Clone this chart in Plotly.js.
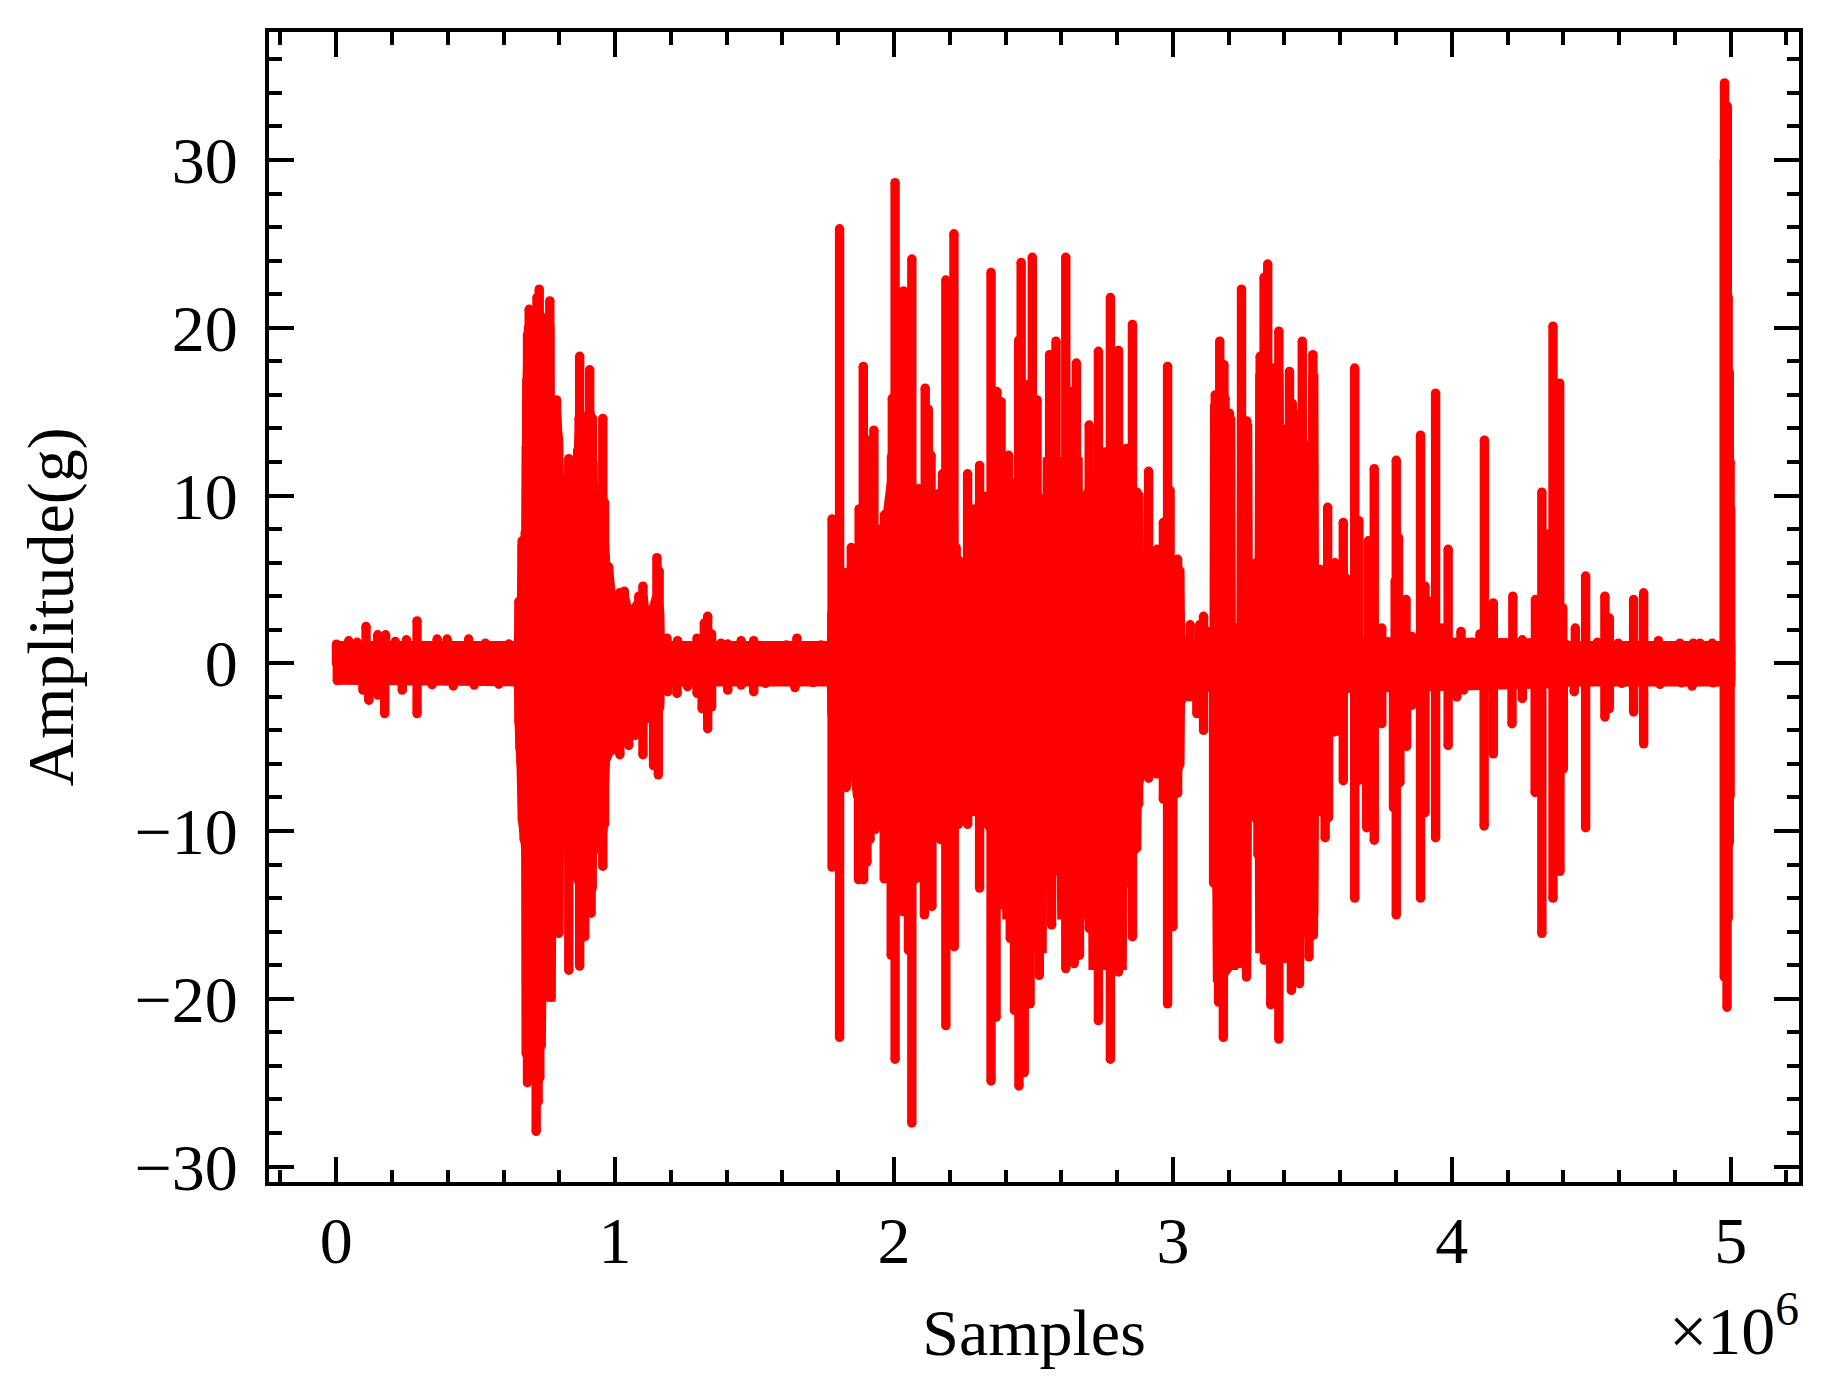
<!DOCTYPE html>
<html>
<head>
<meta charset="utf-8">
<script src="https://cdn.plot.ly/plotly-3.0.1.min.js"></script>
<style>body { margin: 0; background: #fff; }</style>
</head>
<body>
<div id="chart" style="width:1830px;height:1399px;"></div>
<script>
// samples are in units of 1e6, amplitude in g

// solid middle of the signal, upper and lower outline
var bodyTopX = [0, 0.654, 0.656, 0.665, 0.667, 0.68, 0.682, 0.684, 0.69, 0.72, 0.766, 0.767, 0.79, 0.797, 0.80, 0.83, 0.866, 0.873, 0.91, 0.92, 0.93, 0.956, 0.965, 0.977, 0.99, 1.016, 1.033, 1.05, 1.08, 1.10, 1.115, 1.15, 1.16, 1.162, 1.776, 1.778, 1.82, 1.90, 1.93, 1.935, 1.945, 1.95, 1.97, 2.0, 2.08, 2.16, 2.212, 2.214, 2.26, 2.30, 2.35, 2.40, 2.522, 2.525, 2.548, 2.55, 2.66, 2.662, 2.688, 2.69, 2.76, 2.84, 2.878, 2.88, 2.91, 2.95, 3.0, 3.025, 3.027, 3.148, 3.15, 3.207, 3.209, 3.245, 3.247, 3.268, 3.27, 3.295, 3.31, 3.312, 3.38, 3.382, 3.44, 3.478, 3.50, 3.502, 3.505, 3.507, 3.55, 3.6, 3.605, 4.40, 4.42, 4.97, 5.0];
var bodyTopY = [1.05, 1.05, 3.5, 3.5, 7, 7.5, 12, 16, 20, 21, 20, 15, 15, 13, 11, 11, 12, 14, 15, 11, 9.3, 9.5, 6, 5.5, 3.5, 4, 4, 2.8, 3.5, 4, 2, 4, 3, 1.05, 1.05, 3, 5, 6.5, 6.5, 4.7, 4.7, 8, 8, 12, 10, 10, 11, 6, 6, 9, 10, 11, 9.5, 4.6, 4.6, 12, 12, 4.5, 4.5, 10, 12, 10.5, 10, 5.5, 5, 6.5, 6, 5.5, 1.3, 1.3, 15, 14.5, 2, 2, 14, 14, 4.5, 5.5, 5.5, 17, 17, 13.5, 13.5, 12.5, 12.5, 17, 17, 5.2, 5.5, 5, 1.3, 1.2, 1.05, 1.05, 1.05];
var bodyLowX = [0, 0.654, 0.656, 0.663, 0.668, 0.68, 0.682, 0.70, 0.73, 0.735, 0.737, 0.77, 0.772, 0.798, 0.80, 0.83, 0.87, 0.91, 0.92, 0.956, 0.965, 1.0, 1.05, 1.1, 1.15, 1.16, 1.162, 1.776, 1.778, 1.81, 1.83, 1.85, 1.87, 1.925, 1.927, 1.945, 1.947, 1.985, 1.987, 2.078, 2.08, 2.15, 2.2, 2.3, 2.40, 2.405, 2.495, 2.497, 2.531, 2.533, 2.54, 2.542, 2.6, 2.602, 2.668, 2.67, 2.685, 2.687, 2.712, 2.714, 2.818, 2.82, 2.87, 2.872, 2.885, 2.96, 3.0, 3.025, 3.027, 3.148, 3.15, 3.158, 3.16, 3.205, 3.217, 3.219, 3.224, 3.226, 3.265, 3.267, 3.29, 3.292, 3.31, 3.312, 3.40, 3.47, 3.505, 3.507, 3.55, 3.552, 3.6, 3.605, 4.40, 4.42, 4.97, 5.0];
var bodyLowY = [-1.0, -1.1, -3.5, -5.9, -9.3, -11, -23, -23, -22.8, -22, -19.9, -19.9, -15.8, -15.8, -11, -11, -13, -14, -11, -10, -5.8, -4.5, -3.5, -3, -3, -2.6, -1.1, -1.1, -3, -6, -5, -5, -8, -7, -4.8, -4.8, -8, -8, -12, -13, -8.2, -8.2, -9, -8.8, -11, -15, -15, -17, -17, -5, -5, -12, -12, -15, -15, -4.8, -4.8, -9.7, -9.7, -18, -18, -11.8, -11, -7.5, -6.6, -6.4, -7, -6, -1.5, -1.4, -13, -13, -19, -18, -18, -2.7, -2.7, -17, -17, -5, -5, -9, -9, -17, -17, -16, -15, -8.6, -9, -4.2, -4, -1.5, -1.2, -1.1, -1.1, -1.1];

// quiet start, 0 to 0.65
var topX1 = [0.001, 0.045, 0.075, 0.107, 0.149, 0.177, 0.212, 0.252, 0.290, 0.362, 0.398, 0.475, 0.535, 0.619];
var topY1 = [1.14, 1.34, 1.25, 2.2, 1.7, 1.7, 1.3, 1.4, 2.53, 1.45, 1.45, 1.45, 1.2, 1.15];
var lowX1 = [0.004, 0.096, 0.117, 0.149, 0.174, 0.237, 0.290, 0.344, 0.42, 0.495, 0.583];
var lowY1 = [-1.03, -1.6, -2.2, -1.9, -3.0, -1.6, -3.0, -1.28, -1.35, -1.3, -1.25];

// first burst, 0.65 to 1.75
var topX2 = [0.656, 0.667, 0.678, 0.682, 0.684, 0.686, 0.692, 0.720, 0.728, 0.744, 0.766, 0.790, 0.797, 0.804, 0.834, 0.866, 0.871, 0.873, 0.909, 0.919, 0.921, 0.923, 0.956, 0.962, 0.965, 0.977, 0.989, 1.016, 1.033, 1.049, 1.085, 1.100, 1.115, 1.150, 1.158, 1.186, 1.224, 1.260, 1.294, 1.320, 1.332, 1.346, 1.380, 1.404, 1.452, 1.497, 1.542, 1.584, 1.614, 1.652, 1.694, 1.738];
var topY2 = [3.7, 7.3, 7.8, 12.9, 16.9, 19.6, 21.1, 21.8, 22.3, 20.1, 21.6, 15.7, 13.4, 11.1, 12.2, 12.7, 14.6, 18.3, 17.5, 14.6, 11.9, 9.3, 14.6, 9.6, 6.4, 5.75, 3.9, 4.2, 4.3, 3.0, 4.0, 4.6, 2.1, 6.3, 5.5, 1.5, 1.35, 1.0, 1.5, 2.4, 2.8, 1.75, 1.2, 1.15, 1.35, 1.35, 1.05, 1.05, 1.1, 1.5, 1.05, 1.1];
var lowX2 = [0.656, 0.659, 0.663, 0.668, 0.674, 0.680, 0.682, 0.686, 0.717, 0.724, 0.730, 0.735, 0.770, 0.798, 0.834, 0.873, 0.891, 0.914, 0.918, 0.923, 0.956, 0.962, 0.965, 0.989, 1.017, 1.049, 1.072, 1.100, 1.115, 1.138, 1.155, 1.189, 1.222, 1.260, 1.294, 1.312, 1.332, 1.346, 1.404, 1.452, 1.497, 1.54, 1.645, 1.71];
var lowY2 = [-3.5, -5.1, -5.9, -9.3, -10.5, -11.2, -23.3, -25.0, -27.9, -26.15, -24.7, -22.8, -19.9, -16.1, -18.3, -18.05, -16.3, -14.9, -13.4, -11.2, -12.1, -9.6, -5.8, -5.2, -5.45, -4.9, -4.3, -5.45, -3.3, -6.1, -6.65, -1.7, -1.8, -1.4, -1.8, -2.7, -3.9, -2.6, -1.6, -1.3, -1.7, -1.2, -1.45, -1.15];

// second burst, 1.75 to 3.05
var topX3 = [1.778, 1.805, 1.825, 1.847, 1.875, 1.890, 1.909, 1.928, 1.939, 1.966, 1.991, 1.994, 2.004, 2.034, 2.064, 2.088, 2.112, 2.123, 2.133, 2.156, 2.174, 2.186, 2.215, 2.223, 2.229, 2.264, 2.285, 2.307, 2.327, 2.348, 2.369, 2.384, 2.411, 2.447, 2.456, 2.476, 2.496, 2.513, 2.521, 2.558, 2.581, 2.616, 2.638, 2.654, 2.668, 2.700, 2.733, 2.757, 2.776, 2.805, 2.833, 2.855, 2.871, 2.883, 2.913, 2.943, 2.966, 2.981, 2.990, 3.017, 3.032];
var topY3 = [8.6, 25.9, 5.4, 6.9, 9.2, 17.7, 13.3, 13.9, 5.0, 8.85, 12.3, 15.8, 28.65, 22.2, 24.1, 10.4, 16.4, 15.15, 12.4, 10.1, 11.3, 22.85, 25.6, 6.9, 6.2, 11.3, 9.2, 11.8, 9.95, 23.3, 16.2, 15.6, 12.4, 19.25, 23.9, 16.6, 24.2, 15.7, 9.9, 18.4, 19.2, 24.2, 16.2, 17.9, 4.5, 14.2, 18.6, 12.6, 21.8, 18.65, 12.8, 20.2, 10.2, 5.8, 11.45, 6.8, 8.4, 17.7, 10.3, 6.2, 1.5];
var lowX3 = [1.778, 1.805, 1.829, 1.873, 1.891, 1.903, 1.914, 1.933, 1.965, 1.990, 2.004, 2.032, 2.052, 2.064, 2.109, 2.136, 2.166, 2.186, 2.216, 2.231, 2.264, 2.307, 2.348, 2.366, 2.381, 2.393, 2.417, 2.432, 2.448, 2.467, 2.488, 2.521, 2.548, 2.565, 2.590, 2.616, 2.646, 2.665, 2.700, 2.733, 2.776, 2.805, 2.833, 2.855, 2.877, 2.913, 2.943, 2.966, 2.981, 3.000, 3.017, 3.032];
var lowY3 = [-12.15, -22.3, -7.4, -12.9, -12.9, -11.85, -10.5, -9.9, -12.85, -17.4, -23.6, -14.8, -17.1, -27.4, -15.0, -14.5, -10.5, -21.6, -16.9, -9.6, -9.6, -13.4, -24.9, -21.1, -14.4, -12.3, -16.4, -20.7, -25.2, -24.4, -20.3, -18.6, -13.0, -15.6, -12.4, -18.2, -17.9, -17.4, -15.8, -21.3, -23.6, -18.4, -13.1, -16.3, -8.4, -6.85, -6.6, -8.1, -20.3, -15.7, -7.75, -2.2];

// third burst, 3.05 to 3.65
var topX4 = [3.062, 3.096, 3.110, 3.128, 3.152, 3.168, 3.183, 3.187, 3.203, 3.226, 3.246, 3.265, 3.277, 3.299, 3.313, 3.327, 3.340, 3.360, 3.380, 3.399, 3.418, 3.428, 3.435, 3.464, 3.478, 3.502, 3.528, 3.555, 3.581, 3.611, 3.620];
var topY4 = [2.3, 2.3, 2.8, 1.9, 16.0, 19.2, 17.8, 15.8, 14.9, 2.1, 22.3, 14.45, 4.6, 6.0, 18.3, 23.0, 23.8, 17.6, 19.8, 13.95, 17.4, 15.5, 14.9, 19.2, 13.0, 18.4, 5.6, 9.3, 6.0, 8.4, 5.1];
var lowX4 = [3.060, 3.086, 3.110, 3.146, 3.164, 3.181, 3.203, 3.239, 3.264, 3.279, 3.299, 3.305, 3.328, 3.351, 3.380, 3.402, 3.425, 3.454, 3.488, 3.504, 3.546, 3.558, 3.611];
var lowY4 = [-2.0, -3.0, -4.0, -13.1, -20.2, -22.3, -18.0, -17.9, -18.7, -8.3, -9.3, -11.4, -17.7, -20.35, -22.4, -17.6, -19.5, -19.1, -17.5, -16.2, -10.4, -9.2, -7.0];

// sparse spikes, 3.65 to 4.97
var topX5 = [3.652, 3.667, 3.701, 3.722, 3.749, 3.797, 3.801, 3.809, 3.836, 3.857, 3.888, 3.904, 3.920, 3.942, 3.964, 3.987, 4.033, 4.072, 4.101, 4.117, 4.149, 4.179, 4.219, 4.253, 4.281, 4.300, 4.323, 4.342, 4.363, 4.387, 4.393, 4.398, 4.443, 4.480, 4.522, 4.549, 4.565, 4.597, 4.652, 4.688, 4.741, 4.818, 4.866, 4.890, 4.934];
var topY5 = [17.6, 8.5, 7.3, 11.6, 2.1, 4.9, 12.1, 7.5, 3.8, 1.6, 13.6, 4.6, 3.7, 16.1, 2.1, 6.8, 1.9, 1.25, 1.75, 13.3, 3.6, 1.1, 4.0, 1.4, 1.2, 3.8, 10.2, 7.7, 20.1, 16.7, 3.3, 3.3, 2.1, 5.2, 1.25, 4.0, 2.7, 1.2, 3.8, 4.2, 1.35, 1.2, 1.2, 1.2, 1.2];
var lowX5 = [3.652, 3.665, 3.695, 3.722, 3.749, 3.791, 3.801, 3.814, 3.838, 3.857, 3.888, 3.904, 3.942, 3.987, 4.018, 4.042, 4.116, 4.149, 4.216, 4.253, 4.299, 4.323, 4.363, 4.388, 4.400, 4.439, 4.480, 4.549, 4.565, 4.61, 4.652, 4.688, 4.747, 4.824, 4.862, 4.938];
var lowY5 = [-14.0, -7.0, -9.8, -10.55, -3.6, -8.6, -15.0, -7.1, -4.95, -2.5, -14.0, -8.9, -10.4, -4.9, -2.0, -1.6, -9.7, -5.4, -3.6, -2.1, -7.7, -16.1, -14.0, -12.4, -6.3, -1.7, -9.8, -3.2, -2.7, -1.2, -2.9, -4.8, -1.26, -1.17, -1.36, -1.17];

// last spike at the end of the record
var topX6 = [4.977, 4.978, 4.988, 4.991, 4.995, 4.998, 5.0];
var topY6 = [30.0, 34.6, 33.2, 21.8, 17.35, 12.0, 9.2];
var lowX6 = [4.977, 4.987, 4.991, 4.995, 4.998, 5.0];
var lowY6 = [-18.7, -20.5, -15.2, -10.7, -7.9, -1.0];

var groups = [
    [topX1, topY1], [lowX1, lowY1],
    [topX2, topY2], [lowX2, lowY2],
    [topX3, topY3], [lowX3, lowY3],
    [topX4, topY4], [lowX4, lowY4],
    [topX5, topY5], [lowX5, lowY5],
    [topX6, topY6], [lowX6, lowY6]
];

// every peak is a stroke from the axis out to the peak value
var spikeX = [];
var spikeY = [];
groups.forEach(function (g) {
    g[0].forEach(function (x, i) {
        spikeX.push(x, x, null);
        spikeY.push(0, g[1][i], null);
    });
});

var red = '#ff0000';
var lineWidth = 9.4;

var body = {
    type: 'scatter',
    mode: 'lines',
    x: bodyTopX.concat(bodyLowX.slice().reverse()),
    y: bodyTopY.concat(bodyLowY.slice().reverse()),
    fill: 'toself',
    fillcolor: red,
    line: {color: red, width: lineWidth, simplify: false},
    hoverinfo: 'skip'
};

var spikes = {
    type: 'scatter',
    mode: 'lines+markers',
    x: spikeX,
    y: spikeY,
    line: {color: red, width: lineWidth, simplify: false},
    marker: {color: red, size: lineWidth},
    hoverinfo: 'skip'
};

var serif = '"Liberation Serif", "Times New Roman", serif';

var xAxisLayout = {
    range: [-0.2409, 5.245],
    dtick: 1,
    tick0: 0,
    ticks: 'inside',
    ticklen: 25,
    tickwidth: 4,
    tickcolor: '#000',
    minor: {ticks: 'inside', dtick: 0.2, ticklen: 12.5, tickwidth: 4, tickcolor: '#000'},
    showline: true,
    linecolor: '#000',
    linewidth: 4,
    mirror: 'allticks',
    showgrid: false,
    zeroline: false,
    ticklabelstandoff: -2,
    tickfont: {family: serif, size: 66, color: '#000'},
    title: {text: 'Samples', font: {family: serif, size: 66, color: '#000'}, standoff: 34}
};

var yAxisLayout = {
    range: [-30.92, 37.63],
    dtick: 10,
    tick0: 0,
    ticks: 'inside',
    ticklen: 25,
    tickwidth: 4,
    tickcolor: '#000',
    minor: {ticks: 'inside', dtick: 2, ticklen: 12.5, tickwidth: 4, tickcolor: '#000'},
    showline: true,
    linecolor: '#000',
    linewidth: 4,
    mirror: 'allticks',
    showgrid: false,
    zeroline: false,
    ticklabelstandoff: 14,
    tickfont: {family: serif, size: 66, color: '#000'},
    title: {text: 'Amplitude(g)', font: {family: serif, size: 66, color: '#000'}, standoff: 40}
};

var layout = {
    width: 1830,
    height: 1399,
    showlegend: false,
    paper_bgcolor: '#fff',
    plot_bgcolor: '#fff',
    margin: {l: 268.5, r: 31, t: 32, b: 216.7, pad: 0},
    xaxis: xAxisLayout,
    yaxis: yAxisLayout,
    annotations: [{
        text: '×10<sup>6</sup>',
        xref: 'paper',
        yref: 'paper',
        x: 1.001,
        y: -0.125,
        xanchor: 'right',
        yanchor: 'middle',
        showarrow: false,
        font: {family: serif, size: 68, color: '#000'}
    }]
};

Plotly.newPlot('chart', [body, spikes], layout, {displayModeBar: false, staticPlot: true});
</script>
</body>
</html>
